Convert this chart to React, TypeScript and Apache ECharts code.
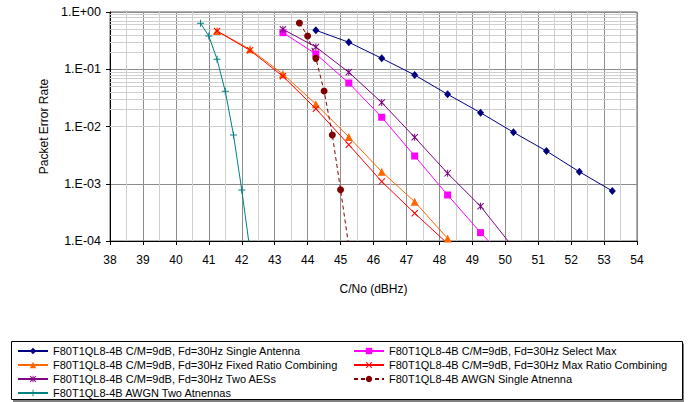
import React, { useEffect, useRef } from "react";
import * as echarts from "echarts";

const xTicks = { min: 38, max: 54, step: 1 };
const yDecades = [1e-4, 1e-3, 1e-2, 1e-1, 1];

const singleX = [44.25, 45.25, 46.25, 47.25, 48.25, 49.25, 50.25, 51.25, 52.25, 53.25];
const singleY = [0.479, 0.296, 0.155, 0.0794, 0.0365, 0.0174, 0.00792, 0.00373, 0.00162, 0.000747];

const selectX = [43.25, 44.25, 45.25, 46.25, 47.25, 48.25, 49.25, 50.25];
const selectY = [0.435, 0.185, 0.0575, 0.0145, 0.00305, 0.000636, 0.00014, 0.000035];

const fixedX = [41.25, 42.25, 43.25, 44.25, 45.25, 46.25, 47.25, 48.25, 49.25];
const fixedY = [0.466, 0.223, 0.0826, 0.0245, 0.00656, 0.00162, 0.000486, 0.000111, 0.000028];

const maxX = [41.25, 42.25, 43.25, 44.25, 45.25, 46.25, 47.25, 48.25];
const maxY = [0.466, 0.214, 0.0753, 0.0204, 0.00481, 0.00109, 0.000305, 0.00009];

const aesX = [43.25, 44.25, 45.25, 46.25, 47.25, 48.25, 49.25, 50.25];
const aesY = [0.499, 0.245, 0.0885, 0.0262, 0.00648, 0.00152, 0.000404, 0.000076];

const awgn1X = [43.75, 44.0, 44.25, 44.5, 44.75, 45.0, 45.25];
const awgn1Y = [0.643, 0.381, 0.155, 0.0417, 0.00711, 0.000787, 0.00008];

const awgn2X = [40.75, 41.0, 41.25, 41.5, 41.75, 42.0, 42.25];
const awgn2Y = [0.635, 0.381, 0.149, 0.0412, 0.00711, 0.000778, 0.000068];

const names = [
  "F80T1QL8-4B C/M=9dB, Fd=30Hz Single Antenna",
  "F80T1QL8-4B C/M=9dB, Fd=30Hz Select Max",
  "F80T1QL8-4B C/M=9dB, Fd=30Hz Fixed Ratio Combining",
  "F80T1QL8-4B C/M=9dB, Fd=30Hz Max Ratio Combining",
  "F80T1QL8-4B C/M=9dB, Fd=30Hz Two AESs",
  "F80T1QL8-4B AWGN Single Atnenna",
  "F80T1QL8-4B AWGN Two Atnennas",
];

const CROSS = "path://M1,0L5,4L9,0L10,1L6,5L10,9L9,10L5,6L1,10L0,9L4,5L0,1Z";
const PLUS = "path://M4.3,0H5.7V4.3H10V5.7H5.7V10H4.3V5.7H0V4.3H4.3Z";
const STAR = "path://M1,0L5,4L9,0L10,1L6,5L10,9L9,10L5,6L1,10L0,9L4,5L0,1Z M4.3,0H5.7V10H4.3Z";

const zip = (xs: number[], ys: number[]) => xs.map((x, i) => [x, ys[i]]);

export default function App() {
  const ref = useRef<HTMLDivElement>(null);
  useEffect(() => {
    if (!ref.current) return;
    const chart = echarts.init(ref.current, null, { renderer: "svg" });
    const font = "Liberation Sans, Arial, sans-serif";
    const minorY: number[] = [];
    for (let d = 0; d < yDecades.length - 1; d++) {
      for (let k = 2; k <= 9; k++) minorY.push(+(yDecades[d] * k).toPrecision(3));
    }
    const mk = (
      name: string,
      xs: number[],
      ys: number[],
      color: string,
      symbol: string,
      size: number | number[],
      dashed = false
    ) => ({
      name,
      type: "line",
      data: zip(xs, ys),
      symbol,
      symbolSize: size,
      showSymbol: true,
      z: 5,
      clip: true,
      itemStyle: { color },
      lineStyle: { color, width: 1, type: dashed ? [4, 3] : "solid" },
    });
    const legendCommon = {
      orient: "vertical",
      top: 344,
      itemWidth: 30,
      itemHeight: 8,
      itemGap: 0,
      padding: 0,
      textStyle: { fontFamily: font, fontSize: 11, color: "#000", lineHeight: 14, height: 14 },
    };
    chart.setOption({
      animation: false,
      backgroundColor: "#fff",
      grid: {
        left: 110,
        right: 53,
        top: 12,
        bottom: 161,
        show: true,
        borderColor: "#606060",
        borderWidth: 1,
      },
      xAxis: {
        type: "value",
        min: xTicks.min,
        max: xTicks.max,
        interval: xTicks.step,
        name: "C/No (dBHz)",
        nameLocation: "middle",
        nameGap: 42,
        nameTextStyle: { fontFamily: font, fontSize: 12, color: "#000" },
        axisLine: { show: true, onZero: false, lineStyle: { color: "#000", width: 1 } },
        axisTick: { show: true, length: 4, lineStyle: { color: "#000" } },
        axisLabel: { fontFamily: font, fontSize: 12, color: "#000", margin: 13 },
        splitLine: { show: true, lineStyle: { color: "#8c8c8c", width: 1 } },
        minorTick: { show: false, splitNumber: 2 },
        minorSplitLine: { show: true, lineStyle: { color: "#cfcfcf", width: 1 } },
      },
      yAxis: {
        type: "log",
        logBase: 10,
        min: yDecades[0],
        max: yDecades[yDecades.length - 1],
        name: "Packet Error Rate",
        nameLocation: "middle",
        nameGap: 54,
        nameTextStyle: { fontFamily: font, fontSize: 12, color: "#000" },
        axisLine: { show: true, lineStyle: { color: "#000", width: 1 } },
        axisTick: { show: true, length: 4, lineStyle: { color: "#000" } },
        axisLabel: {
          fontFamily: font,
          fontSize: 12.5,
          color: "#000",
          margin: 9,
          formatter: (v: number) => {
            const e = Math.round(Math.log10(v));
            return "1.E" + (e >= 0 ? "+" : "-") + String(Math.abs(e)).padStart(2, "0");
          },
        },
        splitLine: { show: true, lineStyle: { color: "#8c8c8c", width: 1 } },
      },
      legend: [
        {
          ...legendCommon,
          left: 17,
          data: [names[0], names[2], names[4], names[6]],
        },
        {
          ...legendCommon,
          left: 353,
          data: [names[1], names[3], names[5]],
        },
      ],
      graphic: [
        {
          type: "rect",
          z: -1,
          shape: { x: 13, y: 343.5, width: 671, height: 59 },
          style: { fill: "#808080" },
        },
        {
          type: "rect",
          z: 0,
          shape: { x: 11.5, y: 341.5, width: 671, height: 58 },
          style: { fill: "#fff", stroke: "#000", lineWidth: 1 },
        },
      ],
      series: [
        {
          name: "minor",
          type: "line",
          data: [],
          z: 1,
          silent: true,
          markLine: {
            silent: true,
            symbol: "none",
            label: { show: false },
            lineStyle: { color: "#cfcfcf", width: 1, type: "solid" },
            data: minorY.map((v) => ({ yAxis: v })),
          },
        },
        mk(names[0], singleX, singleY, "#000080", "diamond", [7, 8]),
        mk(names[1], selectX, selectY, "#ff00ff", "rect", 7),
        mk(names[2], fixedX, fixedY, "#ff6600", "triangle", 8),
        mk(names[3], maxX, maxY, "#ff0000", CROSS, 7),
        mk(names[4], aesX, aesY, "#800080", STAR, 7),
        mk(names[5], awgn1X, awgn1Y, "#800000", "circle", 7, true),
        mk(names[6], awgn2X, awgn2Y, "#008080", PLUS, 7),
      ],
    });
    return () => chart.dispose();
  }, []);
  return <div ref={ref} style={{ width: 690, height: 402, position: "absolute", left: 0, top: 0 }} />;
}
